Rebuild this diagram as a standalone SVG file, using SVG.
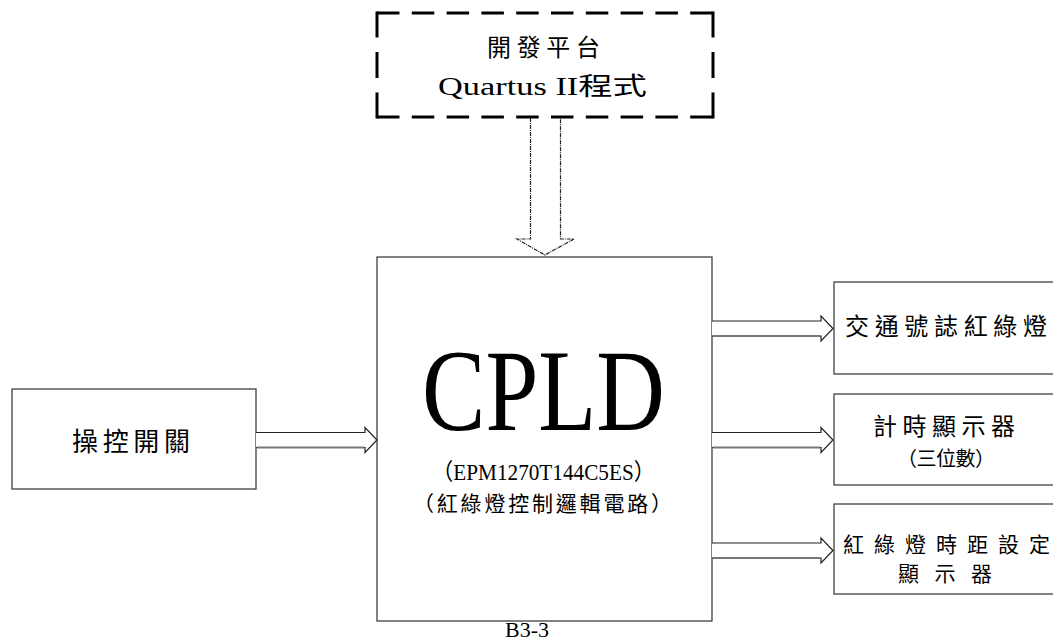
<svg xmlns="http://www.w3.org/2000/svg" width="1053" height="641" viewBox="0 0 1053 641">
<style>
.box{fill:#fff;stroke:#404040;stroke-width:1.3}
.dash{fill:none;stroke:#000;stroke-width:3}
.arr{fill:#fff;stroke:#222;stroke-width:1.2;stroke-linejoin:miter}
.shadow{stroke:#777;stroke-width:2;fill:none}
.darr{fill:none;stroke:#222;stroke-width:1.2;stroke-dasharray:4,1,1,1}
.cjk{font-family:"Noto Sans CJK TC","Noto Sans CJK SC",sans-serif;fill:#000}
.mix{font-family:"Liberation Serif","Noto Sans CJK TC",serif;fill:#000}
.ser{font-family:"Liberation Serif",serif;fill:#000}
</style>
<rect width="1053" height="641" fill="#fff"/>

<g id="dev-platform">
<path class="dash" d="M377,13 H713" stroke-dasharray="22.5,12.3"/>
<path class="dash" d="M377,117 H713" stroke-dasharray="22.5,12.3"/>
<path class="dash" d="M377,11.5 V118.5" stroke-dasharray="26,14.5"/>
<path class="dash" d="M713,11.5 V118.5" stroke-dasharray="26,14.5"/>
<text class="cjk" x="487" y="56" font-size="24" textLength="113">開發平台</text>
<text class="mix" x="438" y="95" font-size="25" textLength="209" lengthAdjust="spacingAndGlyphs">Quartus II程式</text>
</g>

<g id="cpld">
<rect class="box" x="377" y="257" width="335" height="364"/>
<text class="ser" x="422" y="430" font-size="116" textLength="243" lengthAdjust="spacingAndGlyphs">CPLD</text>
<text class="mix" x="432" y="480" font-size="23" textLength="223" lengthAdjust="spacingAndGlyphs">（EPM1270T144C5ES）</text>
<text class="cjk" x="413" y="511" font-size="21" textLength="259">（紅綠燈控制邏輯電路）</text>
</g>

<g id="switch">
<rect class="box" x="12" y="389" width="244" height="100"/>
<text class="cjk" x="72" y="451" font-size="26" textLength="118">操控開關</text>
</g>

<g id="traffic-light">
<rect class="box" x="834" y="282" width="230" height="92"/>
<text class="cjk" x="845" y="335" font-size="24" textLength="202">交通號誌紅綠燈</text>
</g>

<g id="timer-display">
<rect class="box" x="834" y="394" width="230" height="91"/>
<text class="cjk" x="873" y="435" font-size="24" textLength="142">計時顯示器</text>
<text class="cjk" x="897" y="466" font-size="20" textLength="98">（三位數）</text>
</g>

<g id="interval-display">
<rect class="box" x="834" y="504" width="230" height="90"/>
<text class="cjk" x="843" y="552" font-size="21" textLength="207">紅綠燈時距設定</text>
<text class="cjk" x="898" y="581" font-size="21" textLength="94">顯示器</text>
</g>

<g id="connectors">
<path class="darr" d="M530.5,118 V239 H517 L545,255 L574,239 H560.5 V118"/>
<path class="arr" d="M256,432.5 H365 V427.5 L377,440 L365,452.5 V447.5 H256"/>
<path class="shadow" d="M257,447.5 H364"/>
<path class="arr" d="M712,321 H821 V316 L833,328.5 L821,341 V336 H712"/>
<path class="shadow" d="M713,336 H820"/>
<path class="arr" d="M712,432.5 H821 V427.5 L833,440 L821,452.5 V447.5 H712"/>
<path class="shadow" d="M713,447.5 H820"/>
<path class="arr" d="M712,543 H821 V538 L833,550.5 L821,563 V558 H712"/>
<path class="shadow" d="M713,558 H820"/>
</g>

<text class="ser" x="527" y="637" font-size="22" text-anchor="middle">B3-3</text>
</svg>
